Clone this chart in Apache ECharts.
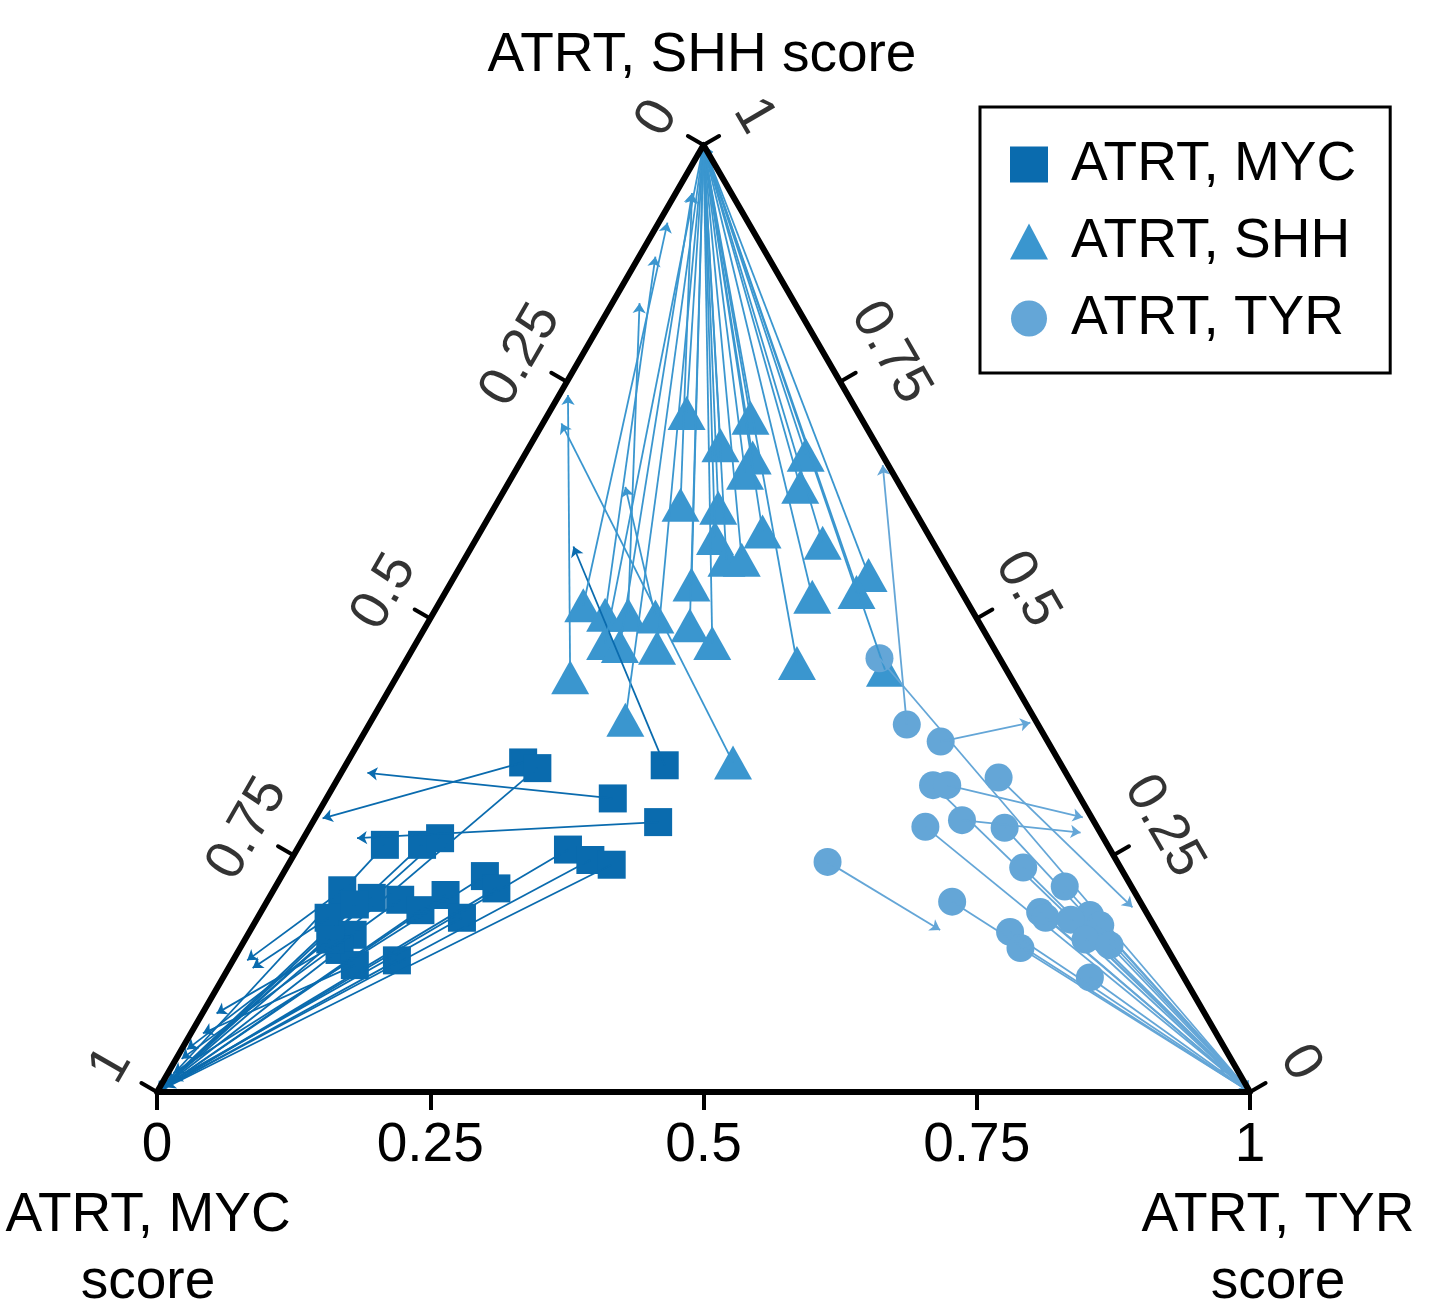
<!DOCTYPE html>
<html>
<head>
<meta charset="utf-8">
<script src="https://cdn.jsdelivr.net/npm/echarts@6/dist/echarts.min.js"></script>
<style>
html,body{margin:0;padding:0;background:#ffffff;}
#chart{width:1430px;height:1312px;}
</style>
</head>
<body>
<div id="chart"></div>
<script>
// ---------- data: each sample as [MYC score, SHH score, TYR score] ----------
const groupNames = ['ATRT, MYC', 'ATRT, SHH', 'ATRT, TYR'];
const axisTitles = ['ATRT, MYC\nscore', 'ATRT, SHH score', 'ATRT, TYR\nscore'];
const tickValues = [0, 0.25, 0.5, 0.75, 1];
const tickLabels = ['0', '0.25', '0.5', '0.75', '1'];

const mycScores = [
  [0.491,0.348,0.161],[0.481,0.342,0.177],[0.428,0.310,0.262],[0.363,0.345,0.292],
  [0.399,0.285,0.316],[0.661,0.261,0.078],[0.627,0.261,0.112],[0.607,0.268,0.125],
  [0.496,0.256,0.248],[0.481,0.245,0.274],[0.464,0.240,0.296],[0.586,0.228,0.186],
  [0.581,0.215,0.203],[0.724,0.213,0.063],[0.701,0.205,0.094],[0.676,0.203,0.121],
  [0.663,0.192,0.145],[0.633,0.208,0.160],[0.629,0.184,0.187],[0.752,0.184,0.065],
  [0.739,0.166,0.096],[0.758,0.150,0.092],[0.752,0.134,0.114],[0.711,0.139,0.150],
  [0.762,0.161,0.078],[0.720,0.198,0.082]
];
const mycTargets = [
  [0.704,0.289,0.007],[1,0,0],[0.639,0.337,0.024],[0.332,0.576,0.093],
  [0.683,0.268,0.049],[1,0,0],[0.985,0.010,0.005],[1,0,0],
  [1,0,0],[0.990,0.005,0.005],[1,0,0],[0.975,0.020,0.005],
  [1,0,0],[0.848,0.139,0.013],[1,0,0],[0.960,0.035,0.005],
  [1,0,0],[1,0,0],[0.980,0.012,0.008],[0.847,0.131,0.022],
  [0.903,0.083,0.013],[1,0,0],[0.927,0.062,0.011],[1,0,0],
  [0.950,0.045,0.005],[1,0,0]
];

const shhScores = [
  [0.158,0.717,0.126],[0.102,0.712,0.187],[0.143,0.683,0.174],[0.121,0.670,0.210],
  [0.135,0.654,0.211],[0.071,0.673,0.257],[0.092,0.639,0.269],[0.212,0.620,0.169],
  [0.178,0.617,0.205],[0.197,0.585,0.218],[0.149,0.592,0.258],[0.102,0.580,0.319],
  [0.199,0.562,0.240],[0.184,0.562,0.254],[0.242,0.536,0.221],[0.077,0.546,0.378],
  [0.096,0.528,0.376],[0.139,0.523,0.338],[0.353,0.514,0.133],[0.338,0.504,0.158],
  [0.317,0.504,0.179],[0.294,0.502,0.205],[0.353,0.474,0.173],[0.341,0.471,0.188],
  [0.308,0.469,0.223],[0.266,0.493,0.241],[0.255,0.474,0.271],[0.188,0.453,0.359],
  [0.403,0.438,0.159],[0.111,0.446,0.443],[0.375,0.393,0.232],[0.299,0.348,0.353]
];
const shhTargets = [
  [0,1,0],[0,1,0],[0,1,0],[0,1,0],
  [0,1,0],[0,1,0],[0,1,0],[0.036,0.949,0.015],
  [0,1,0],[0,1,0],[0,1,0],[0,1,0],
  [0,1,0],[0,1,0],[0,1,0],[0,1,0],
  [0,1,0],[0,1,0],[0.075,0.918,0.008],[0.104,0.882,0.015],
  [0.142,0.833,0.025],[0.252,0.639,0.109],[0,1,0],[0.036,0.949,0.015],
  [0,1,0],[0,1,0],[0,1,0],[0,1,0],
  [0.256,0.736,0.008],[0,1,0],[0,1,0],[0.276,0.706,0.017]
];

const tyrScores = [
  [0.109,0.458,0.432],[0.120,0.388,0.492],[0.099,0.370,0.532],[0.128,0.324,0.548],
  [0.115,0.324,0.561],[0.065,0.332,0.604],[0.157,0.280,0.563],[0.120,0.287,0.593],
  [0.085,0.279,0.636],[0.265,0.243,0.492],[0.090,0.237,0.674],[0.061,0.217,0.722],
  [0.172,0.201,0.627],[0.097,0.190,0.713],[0.096,0.184,0.721],[0.135,0.169,0.696],
  [0.134,0.152,0.714],[0.053,0.187,0.760],[0.049,0.176,0.775],[0.074,0.182,0.745],
  [0.071,0.161,0.769],[0.086,0.121,0.793],[0.051,0.155,0.794]
];
const tyrTargets = [
  [0,0,1],[0.005,0.662,0.333],[0.006,0.390,0.604],[0,0,1],
  [0.008,0.290,0.702],[0.009,0.195,0.795],[0,0,1],[0.019,0.274,0.708],
  [0,0,1],[0.198,0.171,0.631],[0,0,1],[0,0,1],
  [0,0,1],[0,0,1],[0.010,0.020,0.970],[0,0,1],
  [0,0,1],[0,0,1],[0,0,1],[0,0,1],
  [0,0,1],[0,0,1],[0,0,1]
];

// ---------- helpers ----------
const S = Math.sqrt(3) / 2;
function toXY(p) { return [p[2] + p[1] / 2, p[1] * S]; }
const PX = 1 / 1093; // data units per pixel (triangle side = 1093 px)
const FONT = '"Liberation Sans", Arial, Helvetica, sans-serif';
const FS = 55;
const colors = ['#0a6bae', '#3a96cf', '#64a6d7'];
const symbols = ['rect', 'triangle', 'circle'];
const symbolSizes = [28, [38, 34], 28];

const groups = [[mycScores, mycTargets], [shhScores, shhTargets], [tyrScores, tyrTargets]];

const series = [];
groups.forEach(function (g, i) {
  series.push({
    name: groupNames[i], type: 'scatter', symbol: symbols[i], symbolSize: symbolSizes[i],
    itemStyle: { color: colors[i], opacity: 1 }, z: 2,
    data: g[0].map(toXY)
  });
});
groups.forEach(function (g, i) {
  series.push({
    type: 'lines', coordinateSystem: 'cartesian2d', silent: true, z: 3,
    symbol: ['none', 'arrow'], symbolSize: 10,
    lineStyle: { color: colors[i], width: 1.8, opacity: 1 },
    data: g[0].map(function (p, k) { return { coords: [toXY(p), toXY(g[1][k])] }; })
  });
});

// triangle frame
series.push({
  type: 'line', silent: true, z: 6, symbol: 'none', clip: false,
  lineStyle: { color: '#000', width: 6, cap: 'round', join: 'round' },
  data: [toXY([1,0,0]), toXY([0,1,0]), toXY([0,0,1]), toXY([1,0,0])]
});

// left (MYC) and right (SHH) ticks
const TL = 18 * PX;
const leftDir = [-Math.cos(Math.PI / 6), Math.sin(Math.PI / 6)];
const rightDir = [Math.cos(Math.PI / 6), Math.sin(Math.PI / 6)];
const tickLines = [];
const leftLabels = [];
const rightLabels = [];
tickValues.forEach(function (v, k) {
  const pl = toXY([v, 1 - v, 0]);
  const pr = toXY([0, v, 1 - v]);
  tickLines.push({ coords: [pl, [pl[0] + leftDir[0] * TL, pl[1] + leftDir[1] * TL]] });
  tickLines.push({ coords: [pr, [pr[0] + rightDir[0] * TL, pr[1] + rightDir[1] * TL]] });
  leftLabels.push({ name: tickLabels[k], value: [pl[0] + leftDir[0] * 53 * PX, pl[1] + leftDir[1] * 53 * PX] });
  rightLabels.push({ name: tickLabels[k], value: [pr[0] + rightDir[0] * 58 * PX, pr[1] + rightDir[1] * 58 * PX] });
});
series.push({
  type: 'lines', coordinateSystem: 'cartesian2d', silent: true, z: 6, symbol: 'none', clip: false,
  lineStyle: { color: '#000', width: 4, opacity: 1, cap: 'round' }, data: tickLines
});
[[leftLabels, 60], [rightLabels, -60]].forEach(function (L) {
  series.push({
    type: 'scatter', silent: true, z: 7, symbolSize: 1, clip: false, itemStyle: { color: 'rgba(0,0,0,0)' },
    label: { show: true, position: 'inside', formatter: '{b}', rotate: L[1], fontSize: FS,
      color: '#000', fontFamily: FONT, align: 'center', verticalAlign: 'middle' },
    data: L[0]
  });
});

const option = {
  backgroundColor: '#ffffff',
  animation: false,
  grid: { left: 157, top: 145, width: 1093, height: 947, containLabel: false },
  xAxis: {
    type: 'value', min: 0, max: 1, interval: 0.25,
    axisLine: { show: false },
    axisTick: { show: true, length: 18, lineStyle: { color: '#000', width: 4 } },
    splitLine: { show: false },
    axisLabel: { show: true, margin: 26, fontSize: FS, color: '#000', fontFamily: FONT,
      formatter: function (v) { const k = tickValues.indexOf(v); return k >= 0 ? tickLabels[k] : ''; } }
  },
  yAxis: { type: 'value', min: 0, max: S, show: false },
  legend: {
    data: groupNames, orient: 'vertical', left: 980, top: 107,
    padding: [30, 34, 27, 30], itemWidth: 38, itemHeight: 36, itemGap: 22,
    borderColor: '#000', borderWidth: 3, borderRadius: 0,
    textStyle: { fontSize: FS, color: '#000', fontFamily: FONT, padding: [0, 0, 0, 18] }
  },
  graphic: [
    { type: 'text', style: { text: axisTitles[1], x: 702, y: 28, align: 'center', fontSize: FS, fill: '#000', fontFamily: FONT } },
    { type: 'text', style: { text: axisTitles[0], x: 148, y: 1182, align: 'center', fontSize: FS, lineHeight: 67, fill: '#000', fontFamily: FONT } },
    { type: 'text', style: { text: axisTitles[2], x: 1278, y: 1182, align: 'center', fontSize: FS, lineHeight: 67, fill: '#000', fontFamily: FONT } }
  ],
  series: series
};

const chart = echarts.init(document.getElementById('chart'), null, { renderer: 'canvas' });
chart.setOption(option);
</script>
</body>
</html>
